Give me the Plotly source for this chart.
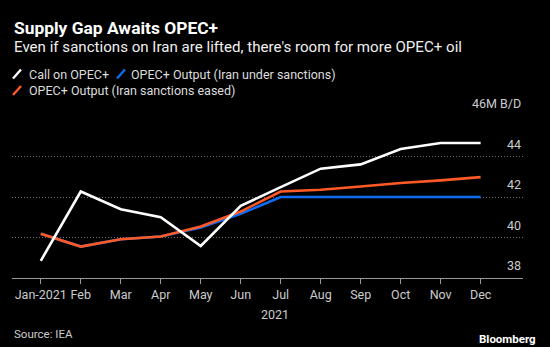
import plotly.graph_objects as go

months = ["Jan", "Feb", "Mar", "Apr", "May", "Jun", "Jul", "Aug", "Sep", "Oct", "Nov", "Dec"]
tick_labels = ["Jan-2021", "Feb", "Mar", "Apr", "May", "Jun", "Jul", "Aug", "Sep", "Oct", "Nov", "Dec"]
call_on_opec = [38.85, 42.27, 41.40, 41.00, 39.58, 41.56, 42.49, 43.40, 43.61, 44.37, 44.67, 44.67]
output_sanctions = [40.18, 39.55, 39.91, 40.05, 40.49, 41.17, 42.00, 42.00, 42.00, 42.00, 42.00, 42.00]
output_eased = [40.18, 39.55, 39.91, 40.05, 40.54, 41.28, 42.27, 42.36, 42.52, 42.69, 42.82, 42.98]
y_ticks = [38, 40, 42, 44, 46]
y_tick_text = ["38", "40", "42", "44", "46M B/D"]

W, H = 550, 347
L, R, T, B = 12, 523, 116, 278  # plot area pixels
FONT = "Roboto"
BLUE = "#0f6cf2"
ORANGE = "#ff5a26"

def px(x):
    return (x - L) / (R - L)

def py(y):
    return (B - y) / (B - T)

x = list(range(len(months)))
fig = go.Figure()
fig.add_trace(go.Scatter(x=x, y=output_sanctions, mode="lines", line=dict(color=BLUE, width=2.6),
                         name="OPEC+ Output (Iran under sanctions)", showlegend=False))
fig.add_trace(go.Scatter(x=x, y=output_eased, mode="lines", line=dict(color=ORANGE, width=2.6),
                         name="OPEC+ Output (Iran sanctions eased)", showlegend=False))
fig.add_trace(go.Scatter(x=x, y=call_on_opec, mode="lines", line=dict(color="#ffffff", width=2.6),
                         name="Call on OPEC+", showlegend=False))

ann = []
ann.append(dict(text="<b>Supply Gap Awaits OPEC+</b>", x=px(12), y=py(28), xanchor="left", yanchor="middle",
                font=dict(size=17.4, color="#ffffff", family=FONT)))
ann.append(dict(text="Even if sanctions on Iran are lifted, there's room for more OPEC+ oil", x=px(12), y=py(46.5),
                xanchor="left", yanchor="middle", font=dict(size=15.1, color="#f0f0f0", family=FONT)))
leg_font = dict(size=12.5, color="#dddddd", family=FONT)
ann.append(dict(text="Call on OPEC+", x=px(27), y=py(74), xanchor="left", yanchor="middle", font=leg_font))
ann.append(dict(text="OPEC+ Output (Iran under sanctions)", x=px(129), y=py(74), xanchor="left", yanchor="middle", font=leg_font))
ann.append(dict(text="OPEC+ Output (Iran sanctions eased)", x=px(27), y=py(90.5), xanchor="left", yanchor="middle", font=leg_font))
for v, t in zip(y_ticks, y_tick_text):
    ann.append(dict(text=t, x=1, y=v, xref="paper", yref="y", xanchor="right", yanchor="bottom", yshift=3,
                    font=dict(size=12.5, color="#cccccc", family=FONT)))
ann.append(dict(text="2021", x=6, y=py(314), xref="x", yref="paper", xanchor="center", yanchor="middle", xshift=-6,
                font=dict(size=12.5, color="#cccccc", family=FONT)))
ann.append(dict(text="Source: IEA", x=px(12), y=py(334), xanchor="left", yanchor="middle",
                font=dict(size=11.5, color="#cccccc", family=FONT)))
ann.append(dict(text="<b>Bloomberg</b>", x=px(538), y=py(339), xanchor="right", yanchor="middle",
                font=dict(size=11.5, color="#ffffff", family=FONT)))
for a in ann:
    a.setdefault("xref", "paper")
    a.setdefault("yref", "paper")
    a["showarrow"] = False

shapes = []
for (x0, y0, col) in [(13, 74, "#ffffff"), (117, 74, BLUE), (13, 90.5, ORANGE)]:
    shapes.append(dict(type="line", xref="paper", yref="paper", x0=px(x0), y0=py(y0 + 4.5), x1=px(x0 + 8), y1=py(y0 - 4.5),
                       line=dict(color=col, width=2.4)))

fig.update_layout(
    width=W, height=H,
    margin=dict(l=L, r=W - R, t=T, b=H - B, pad=0),
    paper_bgcolor="#000000", plot_bgcolor="#000000",
    annotations=ann, shapes=shapes,
    xaxis=dict(range=[-0.72, 12.06], tickmode="array", tickvals=x, ticktext=tick_labels,
               ticks="outside", ticklen=5, tickcolor="#999999", showline=True, linecolor="#999999", linewidth=1,
               showgrid=False, zeroline=False, tickfont=dict(size=12.5, color="#cccccc", family=FONT), fixedrange=True),
    yaxis=dict(range=[38, 46], tickvals=y_ticks, showticklabels=False, showgrid=True, gridcolor="#707070",
               griddash="1px,2px", gridwidth=1, zeroline=False, fixedrange=True),
)
fig.write_html("out.html")
